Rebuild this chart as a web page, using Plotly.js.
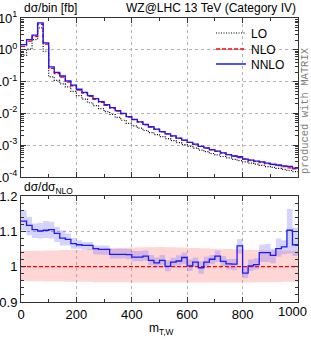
<!DOCTYPE html>
<html><head><meta charset="utf-8">
<script src="https://cdn.plot.ly/plotly-3.0.1.min.js"></script>
<style>html,body{margin:0;padding:0;background:#fff;}</style>
</head><body><div id="chart" style="width:311px;height:340px;"></div>
<script>
// ---- data ----
const binEdges = [0,20,40,60,80,100,120,140,160,180,200,220,240,260,280,300,320,340,360,380,400,420,440,460,480,500,520,540,560,580,600,620,640,660,680,700,720,740,760,780,800,820,840,860,880,900,920,940,960,980,1000];
const nlo = [1.29,1.88,2.62,6.36,1.50,0.262,0.178,0.139,0.0972,0.0729,0.0542,0.0431,0.0343,0.0278,0.02235,0.01796,0.01463,0.01189,0.00966,0.00768,0.00636,0.00529,0.00439,0.00373,0.00316,0.00264,0.00227,0.00193,0.00164,0.00141,0.00122,0.00106,0.000922,0.000812,0.000713,0.000636,0.000566,0.000505,0.000455,0.000409,0.000373,0.00034,0.000312,0.000286,0.000263,0.000244,0.000227,0.000211,0.000195,0.00018];
const lo = [0.68,1.05,2.1,4.9,0.9,0.141,0.11,0.085,0.068,0.049,0.036,0.028,0.0216,0.0175,0.0141,0.0113,0.00922,0.00749,0.00609,0.00484,0.00407,0.00344,0.0029,0.0025,0.00215,0.00185,0.00161,0.00139,0.0012,0.00104,0.000915,0.000806,0.000701,0.000625,0.000549,0.000496,0.000441,0.000399,0.000359,0.000327,0.000298,0.000272,0.000253,0.000232,0.000213,0.0002,0.000186,0.000173,0.00016,0.000148];
const nnloRatio = [1.129,1.117,1.105,1.101,1.103,1.105,1.094,1.081,1.077,1.065,1.062,1.060,1.060,1.051,1.049,1.049,1.035,1.035,1.035,1.034,1.027,1.027,1.030,1.018,1.011,1.018,1.001,1.013,1.016,1.026,1.002,1.013,0.997,1.013,1.021,1.030,1.015,1.008,1.007,1.059,0.982,1.002,1.006,1.040,1.040,1.032,1.051,1.056,1.103,1.062];
const nnloBandHi = [1.160,1.141,1.122,1.124,1.129,1.127,1.113,1.103,1.094,1.081,1.075,1.070,1.070,1.060,1.060,1.060,1.051,1.051,1.051,1.050,1.044,1.044,1.046,1.033,1.026,1.033,1.018,1.025,1.032,1.040,1.020,1.026,1.015,1.028,1.033,1.046,1.030,1.022,1.022,1.078,0.999,1.020,1.024,1.062,1.064,1.051,1.080,1.075,1.163,1.110];
const nnloBandLo = [1.103,1.089,1.081,1.080,1.081,1.080,1.070,1.060,1.060,1.051,1.051,1.049,1.047,1.035,1.034,1.034,1.023,1.023,1.023,1.021,1.015,1.015,1.017,1.004,0.998,1.004,0.987,1.000,1.004,1.007,0.988,1.000,0.980,0.996,1.007,1.013,1.002,0.992,0.990,1.037,0.968,0.988,0.992,1.013,1.013,1.010,1.028,1.035,1.037,1.030];
const nloBandHi = [1.044,1.044,1.045,1.045,1.046,1.046,1.046,1.047,1.047,1.048,1.048,1.049,1.050,1.050,1.051,1.052,1.052,1.053,1.053,1.054,1.054,1.055,1.055,1.055,1.056,1.056,1.055,1.055,1.054,1.054,1.053,1.053,1.052,1.052,1.051,1.051,1.050,1.050,1.049,1.049,1.048,1.048,1.047,1.047,1.046,1.046,1.046,1.045,1.045,1.045];
const nloBandLo = [0.960,0.959,0.959,0.959,0.958,0.958,0.958,0.958,0.957,0.957,0.957,0.957,0.957,0.956,0.956,0.956,0.956,0.956,0.956,0.956,0.955,0.955,0.955,0.955,0.955,0.955,0.955,0.955,0.955,0.955,0.955,0.955,0.955,0.955,0.955,0.955,0.955,0.955,0.955,0.955,0.955,0.955,0.956,0.956,0.956,0.956,0.956,0.957,0.957,0.957];
const seriesNames = ['LO','NLO','NNLO'];
const xTickVals = [0,200,400,600,800,1000];
const xTickText = ['0','200','400','600','800',''];   // last label drawn below, pulled inside the page like the reference
const xLastTickLabel = '1000';
const yTopTickVals = [1e-4,1e-3,1e-2,1e-1,1,10];
const yTopTickText = ['10<sup>-4</sup>','10<sup>-3</sup>','10<sup>-2</sup>','10<sup>-1</sup>','10<sup>0</sup>','10<sup>1</sup>'];
const yRatioTickVals = [0.9,1,1.1,1.2];
const yRatioTickText = ['0.9','1','1.1','1.2'];

// ---- helpers ----
const step = a => a.concat([a[a.length-1]]);
const mul = (a,b) => a.map((v,i)=>v*b[i]);
const nnlo = mul(nlo, nnloRatio);
const nloRatio = nlo.map(v=>v/v);
const minorLog = [];
for (let e=-4;e<1;e++){ for (let d=2; d<10; d++) minorLog.push(d*Math.pow(10,e)); }

const C_LO='#000000', C_NLO='#ff0000', C_NNLO='#1a1aff';
const PINK='rgba(255,90,90,0.25)', BLUE='rgba(100,100,255,0.28)';

function band(lower, upper, color, xa, ya){
  return [
    {x:binEdges, y:step(lower), xaxis:xa, yaxis:ya, mode:'lines', line:{shape:'hv', width:0}, showlegend:false, hoverinfo:'skip'},
    {x:binEdges, y:step(upper), xaxis:xa, yaxis:ya, mode:'lines', line:{shape:'hv', width:0}, fill:'tonexty', fillcolor:color, showlegend:false, hoverinfo:'skip'}
  ];
}
function curve(vals, color, dash, width, xa, ya, name, legend, show){
  return {x:binEdges, y:step(vals), xaxis:xa, yaxis:ya, mode:'lines', name:name,
    line:{shape:'hv', color:color, dash:dash, width:width}, showlegend:show, legend:legend};
}

const traces = [].concat(
  band(mul(nlo,nloBandLo), mul(nlo,nloBandHi), PINK, 'x','y'),
  band(mul(nlo,nnloBandLo), mul(nlo,nnloBandHi), BLUE, 'x','y'),
  [curve(lo, C_LO, '1px,1.5px', 1.2, 'x','y', seriesNames[0], 'legend', true),
   curve(nlo, C_NLO, '4px,2px', 1.3, 'x','y', seriesNames[1], 'legend2', true),
   curve(nnlo, C_NNLO, 'solid', 1.3, 'x','y', seriesNames[2], 'legend3', true)],
  band(nloBandLo, nloBandHi, PINK, 'x2','y2'),
  band(nnloBandLo, nnloBandHi, BLUE, 'x2','y2'),
  [curve(nloRatio, C_NLO, '4px,2px', 1.3, 'x2','y2', seriesNames[1], 'legend2', false),
   curve(nnloRatio, C_NNLO, 'solid', 1.3, 'x2','y2', seriesNames[2], 'legend3', false)]
);

const axisCommon = {
  showline:true, linecolor:'#333', linewidth:1, mirror:'ticks',
  ticks:'inside', ticklen:5, tickcolor:'#333', tickwidth:1,
  showgrid:true, gridcolor:'#b4b4b4', griddash:'dot', gridwidth:1,
  zeroline:false, tickfont:{size:13, color:'#000'}, ticklabeloverflow:'allow'
};
const PLOT_TOP=18, PLOT_BOT=302, PH=PLOT_BOT-PLOT_TOP, PL=21, PW=277;
const py = y => (PLOT_BOT - y)/PH;
const px = x => (x - PL)/PW;
const legendBase = {bgcolor:'rgba(0,0,0,0)', borderwidth:0, font:{size:12, color:'#000'}, xanchor:'left', yanchor:'middle', x:px(211), itemwidth:30, tracegroupgap:0};

const layout = {
  width:311, height:340,
  margin:{l:PL, r:311-PL-PW, t:PLOT_TOP, b:340-PLOT_BOT, pad:0},
  paper_bgcolor:'#fff', plot_bgcolor:'#fff',
  font:{family:'Liberation Sans, Arial, sans-serif', size:12, color:'#000'},
  showlegend:true,
  legend:Object.assign({}, legendBase, {y:py(33)}),
  legend2:Object.assign({}, legendBase, {y:py(49)}),
  legend3:Object.assign({}, legendBase, {y:py(64)}),
  xaxis:Object.assign({}, axisCommon, {domain:[0,1], anchor:'y', range:[0,1000], tickmode:'array', tickvals:xTickVals, showticklabels:false,
    minor:{tickmode:'linear', tick0:0, dtick:100, ticks:'inside', ticklen:3, tickcolor:'#333', showgrid:false}}),
  yaxis:Object.assign({}, axisCommon, {domain:[py(177),1], anchor:'x', type:'log', range:[-4,1], tickmode:'array', tickvals:yTopTickVals, ticktext:yTopTickText,
    minor:{tickmode:'array', tickvals:minorLog, ticks:'inside', ticklen:3, tickcolor:'#333', showgrid:false}}),
  xaxis2:Object.assign({}, axisCommon, {domain:[0,1], anchor:'y2', range:[0,1000], tickmode:'array', tickvals:xTickVals, ticktext:xTickText,
    minor:{tickmode:'linear', tick0:0, dtick:100, ticks:'inside', ticklen:3, tickcolor:'#333', showgrid:false}}),
  yaxis2:Object.assign({}, axisCommon, {domain:[0,py(196)], anchor:'x2', range:[0.9,1.2], tickmode:'array', tickvals:yRatioTickVals, ticktext:yRatioTickText,
    minor:{tickmode:'linear', tick0:0.9, dtick:0.02, ticks:'inside', ticklen:3, tickcolor:'#333', showgrid:false}}),
  annotations:[
    {text:'WZ@LHC 13 TeV (Category IV)', xref:'paper', yref:'paper', x:1, y:py(8), xanchor:'right', yanchor:'middle', showarrow:false, font:{size:12}},
    {text:'dσ/bin [fb]', xref:'paper', yref:'paper', x:px(22), y:py(8), xanchor:'left', yanchor:'middle', showarrow:false, font:{size:12}},
    {text:'dσ/dσ<sub>NLO</sub>', xref:'paper', yref:'paper', x:px(22), y:py(188), xanchor:'left', yanchor:'middle', showarrow:false, font:{size:12}},
    {text:'m<sub>T,W</sub>', xref:'paper', yref:'paper', x:px(147), y:py(329), xanchor:'left', yanchor:'middle', showarrow:false, font:{size:12}},
    {text:xLastTickLabel, xref:'x2', yref:'paper', x:1000, xshift:-6, y:py(311), xanchor:'center', yanchor:'middle', showarrow:false, font:{size:13}},
    {text:'produced with MATRIX', xref:'paper', yref:'paper', x:px(305), y:py(111), xanchor:'center', yanchor:'middle', textangle:-90, showarrow:false, font:{family:'Liberation Mono, DejaVu Sans Mono, monospace', size:10.5, color:'#808080'}}
  ]
};

Plotly.newPlot('chart', traces, layout, {staticPlot:true, displayModeBar:false});
</script></body></html>
